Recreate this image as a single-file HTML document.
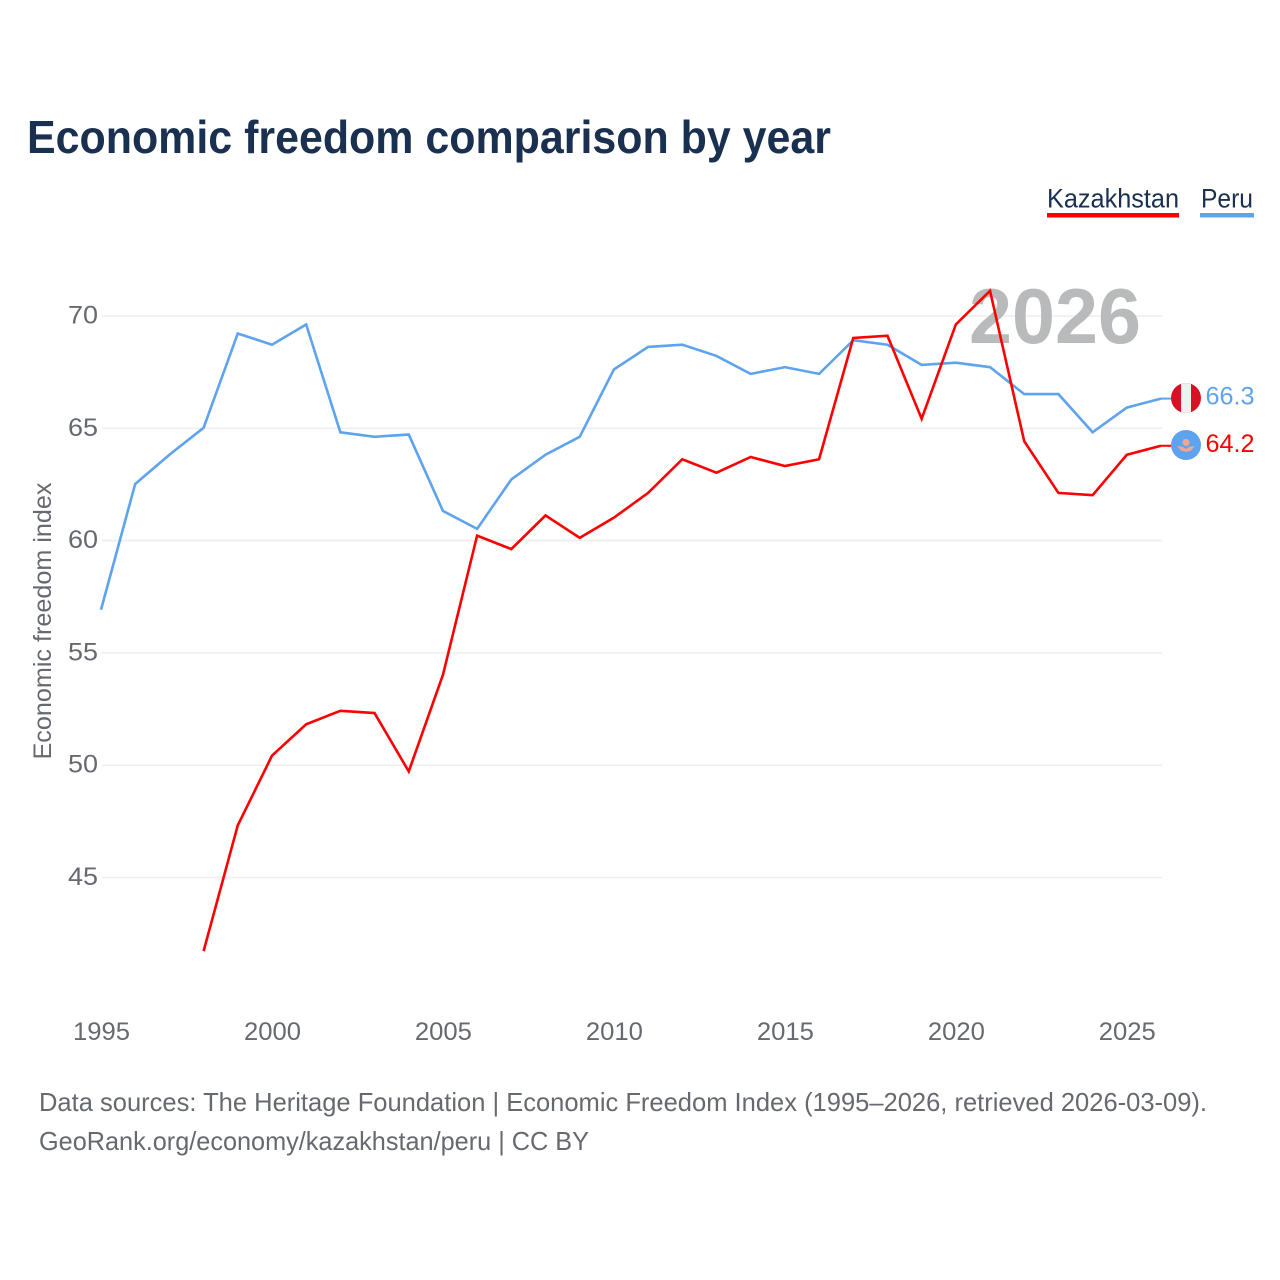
<!DOCTYPE html>
<html lang="en">
<head>
<meta charset="utf-8">
<title>Economic freedom comparison by year</title>
<style>
html,body{margin:0;padding:0;background:#fff;}
svg{display:block;}
text{font-family:"Liberation Sans","DejaVu Sans",sans-serif;}
</style>
</head>
<body>
<svg id="chart" width="1280" height="1280" viewBox="0 0 1280 1280" xmlns="http://www.w3.org/2000/svg">
  <rect width="1280" height="1280" fill="#fff"/>
  <text x="27" y="153" font-size="46" font-weight="700" fill="#1a3050" textLength="804" lengthAdjust="spacingAndGlyphs">Economic freedom comparison by year</text>

  <g>
    <g>
      <text x="1047" y="207.5" font-size="27" fill="#1a3050" textLength="132" lengthAdjust="spacingAndGlyphs">Kazakhstan</text>
      <rect x="1047" y="213" width="132" height="4.5" fill="#ff0000"/>
    </g>
    <g>
      <text x="1201" y="207.5" font-size="27" fill="#1a3050" textLength="52" lengthAdjust="spacingAndGlyphs">Peru</text>
      <rect x="1200" y="213" width="54" height="4.5" fill="#5ea3ee"/>
    </g>
  </g>

  <g id="grid"></g>
  <g id="yticks"></g>
  <g id="xticks"></g>

  <text transform="translate(51,759.5) rotate(-90)" font-size="25" fill="#666a70" textLength="277" lengthAdjust="spacingAndGlyphs">Economic freedom index</text>

  <text id="year-watermark" x="969" y="343" font-size="78" font-weight="700" fill="#b9babc" textLength="172" lengthAdjust="spacingAndGlyphs">2026</text>

  <g id="series"></g>
  <g id="ends"></g>

  <defs>
    <clipPath id="clip-peru"><circle cx="1186" cy="398" r="15"/></clipPath>
    <clipPath id="clip-kaz"><circle cx="1186" cy="445" r="15"/></clipPath>
  </defs>
  <g clip-path="url(#clip-peru)">
    <rect x="1171" y="383" width="30" height="30" fill="#d91023"/>
    <rect x="1181" y="383" width="10" height="30" fill="#f0f0f0"/>
  </g>
  <g clip-path="url(#clip-kaz)">
    <rect x="1171" y="430" width="30" height="30" fill="#5ea3ee"/>
    <circle cx="1186" cy="442.5" r="3.6" fill="#f2a68c"/>
    <path d="M1177 446 L1182 446.5 L1186 449 L1190 446.5 L1195 446 L1191 450.5 L1186 452 L1181 450.5 Z" fill="#f2a68c"/>
  </g>

  <text x="39" y="1111" font-size="26" fill="#666a70" textLength="1168" lengthAdjust="spacingAndGlyphs">Data sources: The Heritage Foundation | Economic Freedom Index (1995–2026, retrieved 2026-03-09).</text>
  <text x="39" y="1150" font-size="26" fill="#666a70" textLength="550" lengthAdjust="spacingAndGlyphs">GeoRank.org/economy/kazakhstan/peru | CC BY</text>
</svg>
<script>
const years = [1995,1996,1997,1998,1999,2000,2001,2002,2003,2004,2005,2006,2007,2008,2009,2010,2011,2012,2013,2014,2015,2016,2017,2018,2019,2020,2021,2022,2023,2024,2025,2026];
const peruValues = [56.9,62.5,63.8,65.0,69.2,68.7,69.6,64.8,64.6,64.7,61.3,60.5,62.7,63.8,64.6,67.6,68.6,68.7,68.2,67.4,67.7,67.4,68.9,68.7,67.8,67.9,67.7,66.5,66.5,64.8,65.9,66.3];
const kazakhstanValues = [null,null,null,41.7,47.3,50.4,51.8,52.4,52.3,49.7,54.0,60.2,59.6,61.1,60.1,61.0,62.1,63.6,63.0,63.7,63.3,63.6,69.0,69.1,65.4,69.6,71.1,64.4,62.1,62.0,63.8,64.2];
const yTickValues = [45,50,55,60,65,70];
const xTickValues = [1995,2000,2005,2010,2015,2020,2025];

const NS = 'http://www.w3.org/2000/svg';
function xScale(year){ return 101 + (year - 1995) * (1161 - 101) / 31; }
function yScale(v){ return 316 + (70 - v) * (877.5 - 316) / 25; }
function make(tag, attrs){
  const el = document.createElementNS(NS, tag);
  for (const k in attrs) el.setAttribute(k, attrs[k]);
  return el;
}
const grid = document.getElementById('grid');
const yticks = document.getElementById('yticks');
const xticks = document.getElementById('xticks');
const seriesG = document.getElementById('series');
const ends = document.getElementById('ends');

yTickValues.forEach(function(v){
  const line = make('line', {x1:102, x2:1162, y1:yScale(v), y2:yScale(v), stroke:'#eeeeee', 'stroke-width':1.6});
  
  
  grid.appendChild(line);
  const t = make('text', {x:98, y:yScale(v) + 7.5, 'text-anchor':'end', 'font-size':25, fill:'#666a70', textLength:30, lengthAdjust:'spacingAndGlyphs'});
  
  
  t.textContent = v;
  yticks.appendChild(t);
});

xTickValues.forEach(function(y){
  const t = make('text', {x:xScale(y) + 0.5, y:1040, 'text-anchor':'middle', 'font-size':25, fill:'#666a70', textLength:57, lengthAdjust:'spacingAndGlyphs'});
  
  
  t.textContent = y;
  xticks.appendChild(t);
});

function drawSeries(name, values, color){
  let d = '';
  let started = false;
  let lastV = null;
  values.forEach(function(v, i){
    if (v === null) return;
    d += (started ? 'L' : 'M') + xScale(years[i]).toFixed(2) + ' ' + (yScale(v) - 0.5).toFixed(2);
    started = true;
    lastV = v;
  });
  const path = make('path', {d:d, fill:'none', stroke:color, 'stroke-width':2.6, 'stroke-linejoin':'miter'});
  
  
  seriesG.appendChild(path);

  const ly = yScale(lastV) - 0.5;
  const conn = make('line', {x1:1161, x2:1172, y1:ly, y2:ly, stroke:color, 'stroke-width':2});
  
  
  ends.appendChild(conn);

  const lab = make('text', {x:1205.5, y:ly + 6, 'font-size':25, fill:color, textLength:49, lengthAdjust:'spacingAndGlyphs'});
  
  
  lab.textContent = lastV.toFixed(1);
  ends.appendChild(lab);
}
drawSeries('peru', peruValues, '#5ea3ee');
drawSeries('kazakhstan', kazakhstanValues, '#ff0000');
</script>
</body>
</html>
